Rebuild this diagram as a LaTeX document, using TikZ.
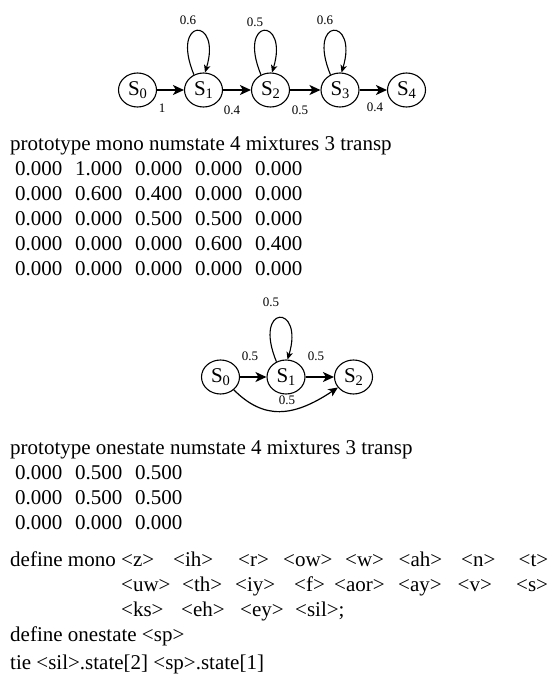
\documentclass[tikz,border=0pt]{standalone}
\usepackage{fontspec}
\setmainfont{Liberation Serif}
\usetikzlibrary{shapes.geometric,arrows.meta}
% fixed-width column cell for the transition matrices
\newcommand{\cbx}[1]{\makebox[60pt][l]{#1}}
% state label S with a lowered index
\newcommand{\stl}[1]{S\raisebox{-0.3ex}{\fontsize{14.5}{14.5}\selectfont #1}}
\begin{document}
\begin{tikzpicture}[x=1pt,y=-1pt,
  state/.style={ellipse,draw,line width=1.1pt,minimum width=38pt,minimum height=34pt,inner sep=0pt,font=\fontsize{21}{21}\selectfont},
  edge/.style={line width=1.8pt,-{Stealth[length=11pt,width=10pt,inset=3pt]}},
  loopedge/.style={line width=1.1pt,-{Stealth[length=7.5pt,width=6.5pt,inset=2pt]}},
  curveedge/.style={line width=1.2pt,-{Stealth[length=9.5pt,width=8.5pt,inset=2.5pt]}},
  prob/.style={font=\fontsize{13}{13}\selectfont,inner sep=0pt},
  txt/.style={anchor=base west,inner sep=0pt,font=\fontsize{21}{25}\selectfont}]
\useasboundingbox (0,0) rectangle (553,682);

% five-state left-to-right model
\node[state] (a0) at (137.5,90) {\stl{0}};
\node[state] (a1) at (203.5,90) {\stl{1}};
\node[state] (a2) at (270.5,90) {\stl{2}};
\node[state] (a3) at (340,90) {\stl{3}};
\node[state] (a4) at (406.5,90) {\stl{4}};
\draw[edge] (a0) -- (a1);
\draw[edge] (a1) -- (a2);
\draw[edge] (a2) -- (a3);
\draw[edge] (a3) -- (a4);
\draw[loopedge] (a1.122) .. controls +(-24,-58) and +(17,-56) .. (a1.85);
\draw[loopedge] (a2.122) .. controls +(-24,-58) and +(17,-56) .. (a2.85);
\draw[loopedge] (a3.122) .. controls +(-24,-58) and +(17,-56) .. (a3.85);
\node[prob] (pa01) at (162,108) {1};
\node[prob] (pa12) at (232,110) {0.4};
\node[prob] (pa23) at (300,110) {0.5};
\node[prob] (pa34) at (375,107) {0.4};
\node[prob] (pa11) at (188,20) {0.6};
\node[prob] (pa22) at (255,22) {0.5};
\node[prob] (pa33) at (325,20) {0.6};

% transition matrix of the five-state model
\node[txt] (h1) at (10,150) {prototype mono numstate 4 mixtures 3 transp};
\node[txt] (ma1) at (15,175) {\cbx{0.000}\cbx{1.000}\cbx{0.000}\cbx{0.000}0.000};
\node[txt] (ma2) at (15,200) {\cbx{0.000}\cbx{0.600}\cbx{0.400}\cbx{0.000}0.000};
\node[txt] (ma3) at (15,225) {\cbx{0.000}\cbx{0.000}\cbx{0.500}\cbx{0.500}0.000};
\node[txt] (ma4) at (15,250) {\cbx{0.000}\cbx{0.000}\cbx{0.000}\cbx{0.600}0.400};
\node[txt] (ma5) at (15,275) {\cbx{0.000}\cbx{0.000}\cbx{0.000}\cbx{0.000}0.000};

% three-state model with a skip transition
\node[state] (b0) at (220.5,377) {\stl{0}};
\node[state] (b1) at (286,377) {\stl{1}};
\node[state] (b2) at (353.5,377) {\stl{2}};
\draw[edge] (b0) -- (b1);
\draw[edge] (b1) -- (b2);
\draw[loopedge] (b1.122) .. controls +(-24,-58) and +(17,-56) .. (b1.85);
\draw[curveedge] (b0.-44) .. controls +(30,30) and +(-45,30) .. (b2.-146);
\node[prob] (pb01) at (250,356) {0.5};
\node[prob] (pb12) at (316,356) {0.5};
\node[prob] (pb11) at (271,302) {0.5};
\node[prob] (pb02) at (287,400) {0.5};

% transition matrix of the three-state model
\node[txt] (h2) at (10,454) {prototype onestate numstate 4 mixtures 3 transp};
\node[txt] (mb1) at (15,479) {\cbx{0.000}\cbx{0.500}0.500};
\node[txt] (mb2) at (15,504) {\cbx{0.000}\cbx{0.500}0.500};
\node[txt] (mb3) at (15,529) {\cbx{0.000}\cbx{0.000}0.000};

% model definitions
\node[txt] (dm) at (10,566) {define mono};
\node[txt] (t01) at (121,566) {<z>};
\node[txt] (t02) at (173,566) {<ih>};
\node[txt] (t03) at (238,566) {<r>};
\node[txt] (t04) at (283,566) {<ow>};
\node[txt] (t05) at (345,566) {<w>};
\node[txt] (t06) at (398.5,566) {<ah>};
\node[txt] (t07) at (461,566) {<n>};
\node[txt] (t08) at (518.5,566) {<t>};
\node[txt] (t09) at (121,591) {<uw>};
\node[txt] (t10) at (182,591) {<th>};
\node[txt] (t11) at (235,591) {<iy>};
\node[txt] (t12) at (294,591) {<f>};
\node[txt] (t13) at (334,591) {<aor>};
\node[txt] (t14) at (398,591) {<ay>};
\node[txt] (t15) at (457.5,591) {<v>};
\node[txt] (t16) at (516,591) {<s>};
\node[txt] (t17) at (121,616) {<ks>};
\node[txt] (t18) at (181,616) {<eh>};
\node[txt] (t19) at (240,616) {<ey>};
\node[txt] (t20) at (295,616) {<sil>;};
\node[txt] (do) at (10,641) {define onestate <sp>};
\node[txt] (tie) at (10,669) {tie <sil>.state[2] <sp>.state[1]};
\end{tikzpicture}
\end{document}
